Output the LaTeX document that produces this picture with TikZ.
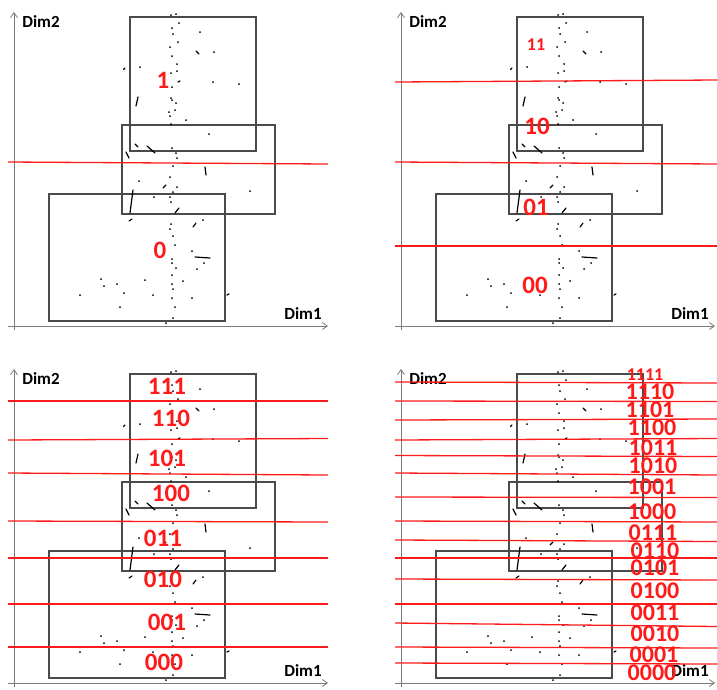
\documentclass[tikz,border=0pt]{standalone}
\usepackage{fontspec}
\setmainfont{Carlito}
\usetikzlibrary{arrows.meta}
\definecolor{cutred}{HTML}{FF1A1A}
\definecolor{boxgrey}{HTML}{4A4A4A}
\definecolor{axgrey}{HTML}{7A7A7A}
\tikzset{
  cell/.style={draw=boxgrey,line width=1.4pt},
  cut/.style={draw=cutred,line width=1.3pt},
  ax/.style={draw=axgrey,line width=0.8pt,-{Straight Barb[length=5pt,width=7pt]}},
  axlab/.style={font=\fontsize{17}{17}\selectfont\bfseries,inner sep=0pt},
  code/.style={text=cutred,font=\fontsize{25}{25}\selectfont\bfseries,inner sep=0pt},
  tightcode/.style={code,font=\fontsize{24}{24}\selectfont\bfseries},
  smallcode/.style={code,font=\fontsize{18}{18}\selectfont\bfseries},
  pt/.style={fill=black},
  stroke/.style={draw=black,line width=1.2pt,line cap=round},
}
\begin{document}
\begin{tikzpicture}[x=1pt,y=-1pt]
\useasboundingbox (0,0) rectangle (717,689);
% the same cloud, boxes and axes in every panel
\foreach \dx/\dy/\p in {0/0/a,387/0/b,0/357/c,387/357/d}{
  \begin{scope}[shift={(\dx,\dy)}]
    \draw[ax] (14,330) -- (14,12);
    \draw[ax] (8,326) -- (328,326);
    \node[axlab] (dimy\p) at (41,22) {Dim2};
    \node[axlab] (dimx\p) at (303,314) {Dim1};
    \draw[cell] (130,17) rectangle (256,151);
    \draw[cell] (122,125) rectangle (275,214);
    \draw[cell] (49,194) rectangle (225,321);
    \foreach \x/\y in {171/15,176/14,179/23,172/28,173/34,200/32,178/42,170/47,
        214/52,172/56,177/64,177/71,171/73,140/67,213/82,239/84,172/87,171/98,
        172/100,176/103,175/110,169/112,170/116,186/120,171/124,209/134,172/148,
        176/153,177/158,173/166,170/177,139/181,177/187,173/192,250/191,154/197,
        170/197,171/202,171/224,170/229,203/220,173/236,175/245,192/251,204/263,
        172/259,172/263,176/268,197/269,172/275,101/279,104/286,117/284,145/280,
        172/284,183/281,173/289,124/293,153/295,80/295,172/298,192/298,175/307,
        120/307,173/318,166/323}
      \fill[pt] (\x,\y) circle (1);
    \foreach \xa/\ya/\xb/\yb in {123.5/69.5/125/68,136/106/138/97,196/51/199/54,
        178/82/180/81,135/144/138/147,147/146/155/153,126/152/129/158,
        205/167/206/175,163/188/166/185,133/190/130/213,175/213/179/208,
        129/221/132/219,193/227/196/223,195/257/210/258,227/295/229/294}
      \draw[stroke] (\xa,\ya) -- (\xb,\yb);
  \end{scope}
}
% panel 1
\draw[cut] (8,162) -- (328,164);
\node[code] (c1) at (163,80) {1};
\node[code] (c0) at (160,250) {0};
% panel 2
\foreach \ya/\yb in {82/80,162/164,246/246}
  \draw[cut] (395,\ya) -- (717,\yb);
\node[smallcode] (c11) at (536,45) {11};
\node[code] (c10) at (537,126) {10};
\node[code] (c01) at (536,207) {01};
\node[code] (c00) at (535,285) {00};
% panel 3
\foreach \ya/\yb in {401/401,440/438.5,473/475,521/522,558/558,604/604,647/647}
  \draw[cut] (8,\ya) -- (328,\yb);
\foreach \t/\x/\y in {111/167/386,110/171/418,101/167/458,100/171/493,
    011/163/538,010/163/579,001/167/622,000/164/662}
  \node[code] (c\t) at (\x,\y) {\t};
% panel 4
\foreach \ya/\yb in {382/383,401/401.5,420/419,440/438.5,455.5/456.5,473/475,
    497/497.5,521/522,540/541.5,558/558,579/580,604/604,623/626.5,647/648,663/664}
  \draw[cut] (395,\ya) -- (717,\yb);
\node[smallcode] (c1111) at (645,375) {1111};
\foreach \t/\x/\y in {1110/650/392,1101/650/410,1100/652/428,1011/653/448,
    1010/653/466,1001/652/487,1000/652/512,0111/653/533,0110/655/551,
    0101/655/568,0100/655/591,0011/655/613,0010/655/634,0001/654/655,0000/652/673}
  \node[tightcode] (c\t) at (\x,\y) {\t};
\end{tikzpicture}
\end{document}
